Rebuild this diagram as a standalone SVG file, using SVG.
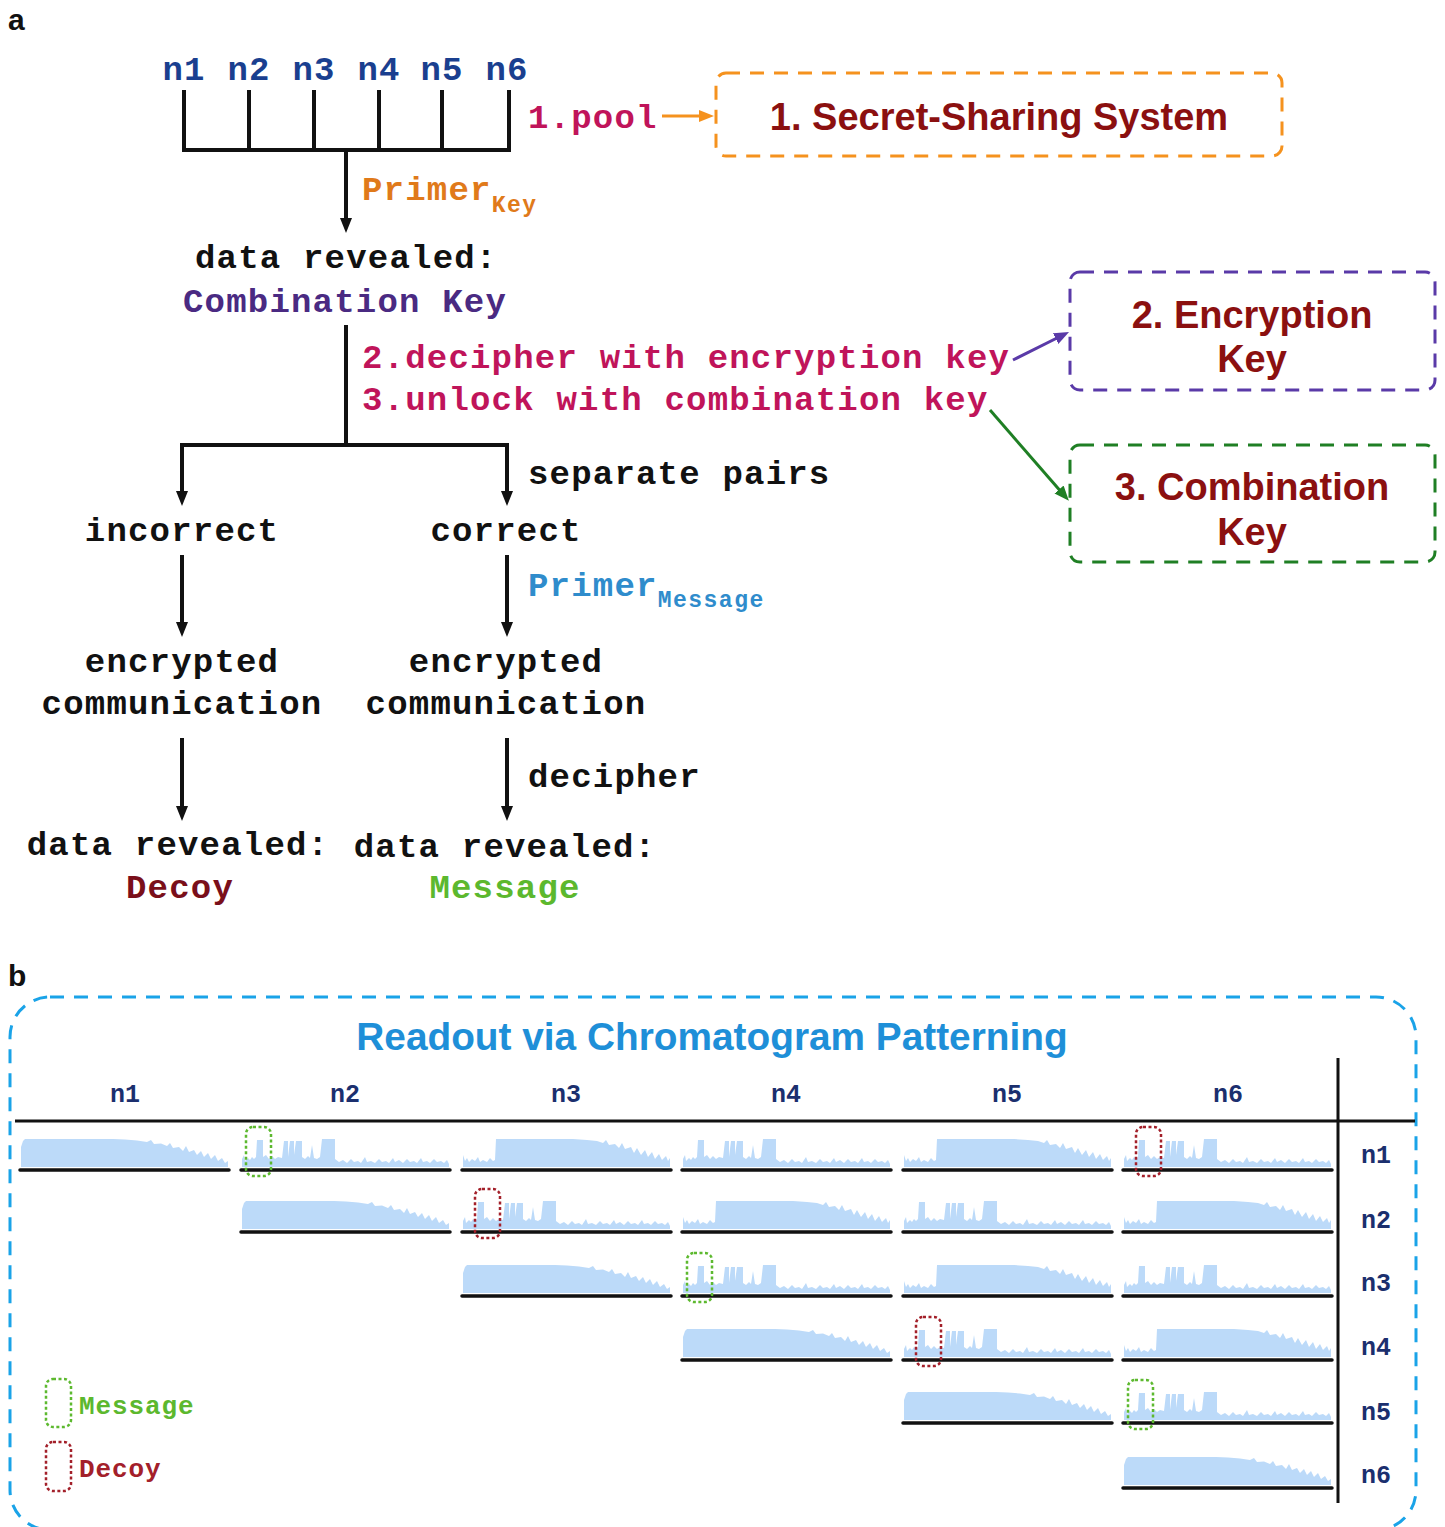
<svg xmlns="http://www.w3.org/2000/svg" width="1445" height="1527" viewBox="0 0 1445 1527">
<style>
.mono{font-family:"Liberation Mono","Courier New",monospace;font-weight:bold;font-size:34px;letter-spacing:1.2px}
.sans{font-family:"Liberation Sans",Arial,sans-serif;font-weight:bold}
.sub{font-size:23px;letter-spacing:1.5px}
.blk{fill:#111}
.ln{stroke:#111;stroke-width:4;fill:none}
.cl{stroke:#111;stroke-width:3.5;stroke-linecap:round;fill:none}
.ch{fill:#bcdaf9}
.gbox{fill:none;stroke:#5db92f;stroke-width:2.5;stroke-dasharray:3 2.5}
.rbox{fill:none;stroke:#a3202a;stroke-width:2.5;stroke-dasharray:3 2.5}
.nl{font-family:"Liberation Mono","Courier New",monospace;font-weight:bold;font-size:25px;fill:#1b2f6e}
.lg{font-family:"Liberation Mono","Courier New",monospace;font-weight:bold;font-size:26px;letter-spacing:0.9px}
</style>
<defs>
<marker id="ab" markerUnits="userSpaceOnUse" markerWidth="16" markerHeight="14" refX="6" refY="6" orient="auto"><path d="M0,0 L15,6 L0,12 z" fill="#111"/></marker>
<marker id="ao" markerUnits="userSpaceOnUse" markerWidth="16" markerHeight="14" refX="6" refY="6" orient="auto"><path d="M0,0 L15,6 L0,12 z" fill="#f5921e"/></marker>
<marker id="ap" markerUnits="userSpaceOnUse" markerWidth="16" markerHeight="14" refX="6" refY="6" orient="auto"><path d="M0,0 L15,6 L0,12 z" fill="#5a3aa8"/></marker>
<marker id="ag" markerUnits="userSpaceOnUse" markerWidth="16" markerHeight="14" refX="6" refY="6" orient="auto"><path d="M0,0 L15,6 L0,12 z" fill="#1f7f24"/></marker>
<path id="chFull" class="ch" d="M0,0 L0,-20 L2,-26 L4,-28 L92,-28 L104,-27.5 L116,-26.5 L126,-25 L130,-27 L133,-23 L140,-23.5 L146,-21 L149,-24 L152,-19 L158,-20 L162,-16 L165,-21 L168,-15 L173,-17 L176,-12 L180,-16 L183,-10 L187,-14 L190,-8 L194,-12 L197,-6 L201,-9 L204,-4 L207,-6 L207,0 Z"/>
<path id="chStep" class="ch" d="M0,0 L0,-12 L2,-6 L4,-9 L6,-5 L9,-8 L12,-6 L15,-10 L17,-5 L20,-7 L24,-5 L27,-9 L30,-6 L32,-7 L33,-28 L110,-28 L124,-27 L134,-26 L140,-24 L143,-27 L146,-22 L152,-23 L156,-19 L159,-24 L162,-18 L168,-20 L171,-14 L174,-19 L178,-12 L182,-17 L185,-10 L189,-15 L192,-8 L196,-13 L199,-7 L203,-11 L205,-6 L207,-9 L207,0 Z"/>
<path id="chPeak" class="ch" d="M0,0 L0,-8 L2,-12 L3,-6 L6,-9 L8,-7 L10,-10 L12,-8 L14,-10 L15,-27 L21,-27 L21,-10 L24,-12 L27,-8 L30,-11 L33,-8 L36,-10 L40,-9 L42,-26 L46,-26 L46,-10 L48,-26 L52,-26 L52,-12 L54,-26 L60,-26 L60,-10 L63,-8 L66,-11 L68,-9 L70,-22 L72,-9 L75,-8 L78,-10 L80,-28 L93,-28 L93,-8 L97,-5 L101,-7 L105,-4 L109,-8 L112,-5 L116,-6 L119,-4 L123,-10 L125,-5 L129,-6 L133,-4 L137,-8 L140,-5 L144,-6 L147,-4 L151,-9 L153,-5 L157,-7 L161,-4 L165,-8 L168,-5 L172,-6 L175,-4 L179,-9 L181,-5 L185,-6 L188,-4 L192,-8 L195,-5 L199,-6 L202,-4 L205,-7 L207,-3 L207,0 Z"/>
</defs>
<rect width="1445" height="1527" fill="#fff"/>

<!-- panel labels -->
<text class="sans" x="8" y="30" font-size="30" fill="#111">a</text>
<text class="sans" x="8" y="986" font-size="30" fill="#111">b</text>

<!-- connectors -->
<g id="connectors">
  <path class="ln" d="M184,90 V150 M249,90 V150 M314,90 V150 M379,90 V150 M442,90 V150 M509,90 V150 M182,150 H511"/>
  <line class="ln" x1="346" y1="150" x2="346" y2="224" marker-end="url(#ab)"/>
  <line class="ln" x1="346" y1="325" x2="346" y2="445"/>
  <path class="ln" d="M182,445 H509"/>
  <line class="ln" x1="182" y1="443" x2="182" y2="497" marker-end="url(#ab)"/>
  <line class="ln" x1="507" y1="443" x2="507" y2="497" marker-end="url(#ab)"/>
  <line class="ln" x1="182" y1="555" x2="182" y2="628" marker-end="url(#ab)"/>
  <line class="ln" x1="507" y1="555" x2="507" y2="628" marker-end="url(#ab)"/>
  <line class="ln" x1="182" y1="738" x2="182" y2="812" marker-end="url(#ab)"/>
  <line class="ln" x1="507" y1="738" x2="507" y2="812" marker-end="url(#ab)"/>
  <line x1="662" y1="116" x2="705" y2="116" stroke="#f5921e" stroke-width="3" marker-end="url(#ao)"/>
  <line x1="1013" y1="360" x2="1061" y2="336" stroke="#5a3aa8" stroke-width="3" marker-end="url(#ap)"/>
  <line x1="990" y1="410" x2="1063" y2="494" stroke="#1f7f24" stroke-width="3" marker-end="url(#ag)"/>
</g>

<!-- part a nodes -->
<g id="pool-inputs">
  <text class="mono" fill="#1a3f8f" text-anchor="middle" y="80"><tspan x="184">n1</tspan><tspan x="249">n2</tspan><tspan x="314">n3</tspan><tspan x="379">n4</tspan><tspan x="442">n5</tspan><tspan x="507">n6</tspan></text>
</g>
<g id="label-pool"><text class="mono" x="528" y="128" fill="#c0145a">1.pool</text></g>
<g id="label-primer-key"><text class="mono" x="362" y="200" fill="#e07a1a">Primer<tspan class="sub" dy="12">Key</tspan></text></g>
<g id="node-combination-key">
  <text class="mono blk" x="195" y="268">data revealed:</text>
  <text class="mono" x="183" y="312" fill="#4a2a82">Combination Key</text>
</g>
<g id="label-steps">
  <text class="mono" x="362" y="368" fill="#c0145a">2.decipher with encryption key</text>
  <text class="mono" x="362" y="410" fill="#c0145a">3.unlock with combination key</text>
</g>
<g id="label-separate"><text class="mono blk" x="528" y="484">separate pairs</text></g>
<g id="node-incorrect"><text class="mono blk" x="182" y="541" text-anchor="middle">incorrect</text></g>
<g id="node-correct"><text class="mono blk" x="506" y="541" text-anchor="middle">correct</text></g>
<g id="label-primer-message"><text class="mono" x="528" y="596" fill="#2f8ccc">Primer<tspan class="sub" dy="11">Message</tspan></text></g>
<g id="node-enc-left">
  <text class="mono blk" x="182" y="672" text-anchor="middle">encrypted</text>
  <text class="mono blk" x="182" y="714" text-anchor="middle">communication</text>
</g>
<g id="node-enc-right">
  <text class="mono blk" x="506" y="672" text-anchor="middle">encrypted</text>
  <text class="mono blk" x="506" y="714" text-anchor="middle">communication</text>
</g>
<g id="label-decipher"><text class="mono blk" x="528" y="787">decipher</text></g>
<g id="node-decoy">
  <text class="mono blk" x="178" y="855" text-anchor="middle">data revealed:</text>
  <text class="mono" x="180" y="898" text-anchor="middle" fill="#7a0f1a">Decoy</text>
</g>
<g id="node-message">
  <text class="mono blk" x="505" y="857" text-anchor="middle">data revealed:</text>
  <text class="mono" x="505" y="898" text-anchor="middle" fill="#5cb82e">Message</text>
</g>
<g id="box-secret-sharing">
  <rect x="716" y="73" width="566" height="83" rx="10" fill="none" stroke="#f5921e" stroke-width="3" stroke-dasharray="14 10"/>
  <text class="sans" x="999" y="130" font-size="38" fill="#8b1010" text-anchor="middle">1. Secret-Sharing System</text>
</g>
<g id="box-encryption-key">
  <rect x="1070" y="272" width="365" height="118" rx="10" fill="none" stroke="#5a3aa8" stroke-width="3" stroke-dasharray="14 10"/>
  <text class="sans" x="1252" y="328" font-size="38" fill="#8b1010" text-anchor="middle">2. Encryption</text>
  <text class="sans" x="1252" y="372" font-size="38" fill="#8b1010" text-anchor="middle">Key</text>
</g>
<g id="box-combination-key">
  <rect x="1070" y="445" width="365" height="117" rx="10" fill="none" stroke="#1f7f24" stroke-width="3" stroke-dasharray="14 10"/>
  <text class="sans" x="1252" y="500" font-size="38" fill="#8b1010" text-anchor="middle">3. Combination</text>
  <text class="sans" x="1252" y="545" font-size="38" fill="#8b1010" text-anchor="middle">Key</text>
</g>

<!-- part b -->
<g id="panel-b-frame">
  <rect x="10" y="997" width="1406" height="533" rx="40" fill="none" stroke="#1aa3e8" stroke-width="3" stroke-dasharray="14 10"/>
  <text class="sans" x="712" y="1050" font-size="38.8" fill="#1e8fd8" text-anchor="middle">Readout via Chromatogram Patterning</text>
  <line x1="15" y1="1121" x2="1415" y2="1121" stroke="#111" stroke-width="3"/>
  <line x1="1338" y1="1058" x2="1338" y2="1503" stroke="#111" stroke-width="3"/>
</g>
<g id="column-labels">
  <text class="nl" text-anchor="middle" y="1102"><tspan x="125">n1</tspan><tspan x="345">n2</tspan><tspan x="566">n3</tspan><tspan x="786">n4</tspan><tspan x="1007">n5</tspan><tspan x="1228">n6</tspan></text>
</g>
<g id="row-labels">
  <text class="nl" x="1376" y="1163" text-anchor="middle">n1</text>
  <text class="nl" x="1376" y="1228" text-anchor="middle">n2</text>
  <text class="nl" x="1376" y="1291" text-anchor="middle">n3</text>
  <text class="nl" x="1376" y="1355" text-anchor="middle">n4</text>
  <text class="nl" x="1376" y="1420" text-anchor="middle">n5</text>
  <text class="nl" x="1376" y="1483" text-anchor="middle">n6</text>
</g>
<g id="row-n1">
  <use href="#chFull" x="21" y="1167"/><use href="#chPeak" x="242" y="1167"/><use href="#chStep" x="463" y="1167"/><use href="#chPeak" x="683" y="1167"/><use href="#chStep" x="904" y="1167"/><use href="#chPeak" x="1124" y="1167"/>
  <path class="cl" d="M20,1170 H229 M241,1170 H450 M462,1170 H671 M682,1170 H891 M903,1170 H1112 M1123,1170 H1332"/>
  <rect class="gbox" x="246" y="1127" width="25" height="49" rx="7"/>
  <rect class="rbox" x="1136" y="1127" width="25" height="49" rx="7"/>
</g>
<g id="row-n2">
  <use href="#chFull" x="242" y="1229"/><use href="#chPeak" x="463" y="1229"/><use href="#chStep" x="683" y="1229"/><use href="#chPeak" x="904" y="1229"/><use href="#chStep" x="1124" y="1229"/>
  <path class="cl" d="M241,1232 H450 M462,1232 H671 M682,1232 H891 M903,1232 H1112 M1123,1232 H1332"/>
  <rect class="rbox" x="475" y="1189" width="25" height="49" rx="7"/>
</g>
<g id="row-n3">
  <use href="#chFull" x="463" y="1293"/><use href="#chPeak" x="683" y="1293"/><use href="#chStep" x="904" y="1293"/><use href="#chPeak" x="1124" y="1293"/>
  <path class="cl" d="M462,1296 H671 M682,1296 H891 M903,1296 H1112 M1123,1296 H1332"/>
  <rect class="gbox" x="687" y="1253" width="25" height="49" rx="7"/>
</g>
<g id="row-n4">
  <use href="#chFull" x="683" y="1357"/><use href="#chPeak" x="904" y="1357"/><use href="#chStep" x="1124" y="1357"/>
  <path class="cl" d="M682,1360 H891 M903,1360 H1112 M1123,1360 H1332"/>
  <rect class="rbox" x="916" y="1317" width="25" height="49" rx="7"/>
</g>
<g id="row-n5">
  <use href="#chFull" x="904" y="1420"/><use href="#chPeak" x="1124" y="1420"/>
  <path class="cl" d="M903,1423 H1112 M1123,1423 H1332"/>
  <rect class="gbox" x="1128" y="1380" width="25" height="49" rx="7"/>
</g>
<g id="row-n6">
  <use href="#chFull" x="1124" y="1485"/>
  <path class="cl" d="M1123,1488 H1332"/>
</g>
<g id="legend">
  <rect class="gbox" x="46" y="1379" width="25" height="48" rx="7"/>
  <text class="lg" x="79" y="1414" fill="#5cb82e">Message</text>
  <rect class="rbox" x="46" y="1442" width="25" height="49" rx="7"/>
  <text class="lg" x="79" y="1477" fill="#a3202a">Decoy</text>
</g>
</svg>
